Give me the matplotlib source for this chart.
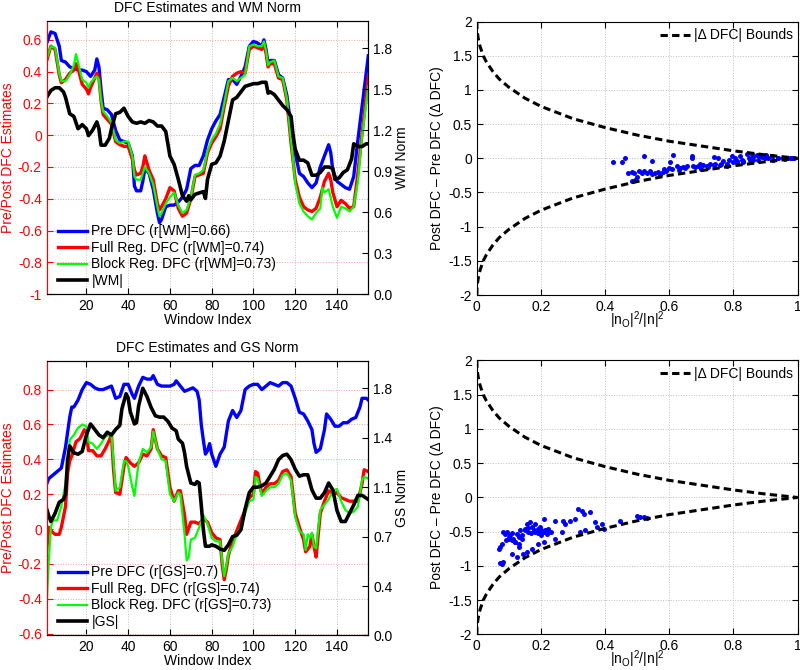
import numpy as np
import matplotlib
matplotlib.use('Agg')
import matplotlib.pyplot as plt

plt.rcParams['font.family'] = ['Liberation Sans', 'DejaVu Sans']
plt.rcParams['font.size'] = 10
plt.rcParams['mathtext.default'] = 'regular'

# ---- top left: DFC estimates and WM norm ----
pre_wm_x = [1,3,5,7,8,10,12,14,16,18,20,22,24,25,26,27,28,30,32,34,36,38,40,42,43,44,46,47,48,50,
            52,54,55,56,58,60,62,64,66,68,70,72,74,76,78,80,82,84,86,88,90,92,94,96,98,100,102,104,105,106,
            107,108,110,112,114,116,118,120,122,124,126,128,130,132,134,136,137,138,140,142,144,146,148,150,152,155]
pre_wm = [0.58,0.65,0.64,0.56,0.47,0.46,0.43,0.42,0.41,0.41,0.40,0.37,0.41,0.48,0.43,0.29,0.17,0.16,0.13,0.03,
          -0.03,-0.04,-0.05,-0.13,-0.32,-0.35,-0.35,-0.29,-0.21,-0.24,-0.34,-0.49,-0.55,-0.53,-0.45,-0.44,-0.44,-0.42,-0.39,-0.34,
          -0.21,-0.19,-0.19,-0.13,-0.03,0.04,0.09,0.13,0.24,0.35,0.35,0.32,0.37,0.43,0.56,0.59,0.58,0.56,0.60,0.54,
          0.45,0.47,0.47,0.38,0.36,0.25,0.05,-0.11,-0.24,-0.26,-0.30,-0.33,-0.30,-0.20,-0.13,-0.06,-0.11,-0.22,-0.29,-0.31,
          -0.33,-0.34,-0.26,-0.03,0.18,0.50]

full_wm_x = [1,3,5,7,8,10,12,14,15,16,18,20,21,22,24,25,26,27,28,30,32,34,36,38,40,42,43,44,46,47,
             48,50,52,54,55,56,58,60,62,64,66,68,70,72,74,76,78,80,82,84,86,88,90,92,94,96,98,100,102,104,
             105,106,107,108,110,112,114,116,118,120,122,124,126,128,130,132,134,136,137,138,140,142,144,146,148,150,152,155]
full_wm = [0.47,0.56,0.54,0.38,0.33,0.35,0.39,0.41,0.45,0.42,0.32,0.29,0.26,0.30,0.36,0.39,0.36,0.22,0.13,0.10,
           0.07,-0.04,-0.06,-0.07,-0.07,-0.15,-0.22,-0.25,-0.24,-0.20,-0.13,-0.22,-0.28,-0.43,-0.47,-0.45,-0.40,-0.33,-0.35,-0.46,
           -0.51,-0.49,-0.40,-0.26,-0.25,-0.24,-0.11,-0.05,-0.01,0.04,0.18,0.31,0.37,0.39,0.40,0.39,0.54,0.56,0.55,0.54,
           0.58,0.52,0.43,0.45,0.45,0.36,0.35,0.22,-0.05,-0.28,-0.39,-0.45,-0.47,-0.48,-0.46,-0.39,-0.29,-0.24,-0.28,-0.36,
           -0.45,-0.41,-0.43,-0.46,-0.45,-0.24,0.01,0.37]

block_wm_x = [1,3,5,7,8,10,12,14,15,16,18,20,21,22,24,25,26,27,28,30,32,34,36,38,40,42,43,44,46,47,
              48,50,52,54,55,56,58,60,62,64,66,68,70,72,74,76,78,80,82,84,86,88,90,92,94,96,98,100,102,104,
              105,106,107,108,110,112,114,116,118,120,122,124,126,128,130,132,133,134,136,138,140,142,144,146,148,150,152,155]
block_wm = [0.48,0.56,0.55,0.39,0.34,0.34,0.38,0.44,0.51,0.46,0.35,0.33,0.30,0.33,0.36,0.37,0.35,0.22,0.15,0.12,
            0.08,-0.03,-0.05,-0.04,-0.04,-0.13,-0.26,-0.28,-0.28,-0.24,-0.20,-0.24,-0.31,-0.45,-0.51,-0.49,-0.43,-0.39,-0.36,-0.44,
            -0.49,-0.47,-0.39,-0.25,-0.24,-0.22,-0.10,-0.03,0.01,0.07,0.20,0.34,0.36,0.34,0.36,0.38,0.56,0.57,0.56,0.56,
            0.59,0.53,0.44,0.46,0.47,0.37,0.36,0.23,-0.03,-0.30,-0.43,-0.48,-0.51,-0.53,-0.49,-0.46,-0.33,-0.36,-0.34,-0.45,
            -0.52,-0.45,-0.46,-0.48,-0.45,-0.29,-0.01,0.31]

wm_x = [1,3,5,7,9,10,12,14,16,18,20,21,23,25,26,27,29,31,32,34,36,38,40,42,44,46,48,50,52,54,
        56,58,60,62,64,66,68,69,70,72,74,76,77,78,80,82,84,86,88,90,92,94,96,98,100,102,104,106,107,108,
        110,112,114,116,118,119,120,122,124,126,128,130,132,134,136,138,139,141,143,145,147,148,150,152,154,155]
wm_norm = [1.44,1.49,1.51,1.51,1.48,1.44,1.32,1.30,1.21,1.24,1.21,1.16,1.20,1.26,1.21,1.09,1.09,1.14,1.21,1.32,
           1.33,1.36,1.30,1.26,1.25,1.26,1.25,1.27,1.26,1.23,1.23,1.19,1.01,0.95,0.84,0.72,0.68,0.72,0.69,0.73,
           0.74,0.75,0.70,0.84,0.95,0.96,1.01,1.12,1.27,1.42,1.44,1.48,1.52,1.53,1.54,1.54,1.55,1.55,1.47,1.48,
           1.46,1.42,1.38,1.35,1.30,1.16,1.06,0.98,0.98,0.96,0.87,0.87,0.89,0.93,0.93,0.92,0.84,0.85,0.89,0.91,
           0.99,1.10,1.08,1.08,1.10,1.10]

# ---- bottom left: DFC estimates and GS norm ----
pre_gs_x = [1,2,4,6,8,10,12,13,14,16,18,20,22,24,26,28,30,32,34,36,38,40,42,43,45,47,49,51,52,54,
            56,58,60,62,63,65,67,69,71,73,74,75,76,77,78,79,80,82,84,86,88,90,92,94,96,98,100,102,104,106,
            108,110,112,114,116,118,120,122,124,126,128,129,130,132,134,135,137,139,141,143,145,147,149,151,152,154,155]
pre_gs = [0.26,0.29,0.31,0.33,0.35,0.47,0.64,0.70,0.70,0.74,0.80,0.84,0.83,0.81,0.80,0.80,0.81,0.82,0.75,0.76,
          0.83,0.83,0.77,0.75,0.82,0.87,0.86,0.86,0.88,0.83,0.82,0.82,0.82,0.83,0.85,0.82,0.79,0.80,0.81,0.79,
          0.74,0.60,0.51,0.43,0.45,0.49,0.43,0.36,0.43,0.47,0.62,0.68,0.64,0.68,0.80,0.82,0.83,0.83,0.80,0.82,
          0.84,0.83,0.82,0.84,0.84,0.82,0.75,0.67,0.66,0.62,0.57,0.49,0.44,0.46,0.57,0.66,0.63,0.59,0.59,0.61,
          0.61,0.63,0.64,0.70,0.75,0.75,0.74]

full_gs_x = [1,2,3,5,7,8,10,11,12,13,15,17,19,20,21,23,25,27,29,31,32,33,34,36,38,39,41,43,45,47,
             49,51,52,54,56,58,60,62,64,65,67,68,70,72,74,76,78,80,82,84,85,86,87,88,90,92,94,96,98,100,
             101,102,104,106,108,110,112,114,116,118,120,122,124,125,127,128,129,130,132,134,136,138,140,142,144,146,148,150,152,153,155]
full_gs = [-0.12,0.01,-0.01,-0.03,-0.03,0.01,0.13,0.32,0.39,0.42,0.50,0.52,0.57,0.55,0.45,0.45,0.42,0.42,0.46,0.51,
           0.54,0.34,0.21,0.20,0.36,0.41,0.38,0.36,0.38,0.43,0.42,0.46,0.57,0.46,0.42,0.41,0.24,0.16,0.22,0.22,
           0.08,-0.03,0.04,0.04,0.03,0.06,0.04,-0.02,-0.05,-0.06,-0.20,-0.29,-0.23,-0.15,-0.07,-0.01,0.05,0.11,0.18,0.20,
           0.33,0.32,0.20,0.24,0.26,0.26,0.28,0.33,0.34,0.30,0.09,0.01,-0.06,-0.13,-0.10,-0.03,-0.10,-0.16,0.09,0.16,
           0.22,0.20,0.21,0.18,0.17,0.16,0.16,0.16,0.26,0.34,0.33]

block_gs_x = [1,2,3,4,6,8,10,11,12,14,16,18,20,21,23,25,27,29,31,32,33,34,36,38,39,40,42,43,45,47,
              49,51,52,54,56,58,60,62,64,65,67,68,69,70,72,74,76,78,80,82,84,85,86,87,88,90,92,94,96,98,
              100,101,102,104,106,108,110,112,114,116,118,120,122,124,125,126,127,128,129,130,132,134,136,138,140,142,144,146,148,150,
              152,153,155]
block_gs = [-0.43,-0.18,0.01,0.05,0.05,0.13,0.26,0.38,0.51,0.54,0.58,0.60,0.59,0.50,0.49,0.46,0.49,0.53,0.54,0.54,
            0.39,0.22,0.24,0.39,0.39,0.36,0.24,0.19,0.38,0.46,0.44,0.47,0.56,0.46,0.40,0.39,0.20,0.16,0.21,0.20,
            -0.03,-0.18,-0.16,-0.06,-0.05,0.01,0.08,0.03,-0.05,-0.07,-0.07,-0.18,-0.27,-0.21,-0.14,-0.10,-0.03,0.01,0.09,0.16,
            0.17,0.30,0.29,0.19,0.22,0.24,0.24,0.26,0.31,0.32,0.28,0.07,-0.01,-0.03,-0.12,-0.03,-0.05,-0.02,-0.10,-0.11,
            0.11,0.14,0.17,0.22,0.23,0.16,0.11,0.09,0.10,0.13,0.28,0.30,0.29]

gs_x = [1,2,3,5,7,9,10,11,12,14,16,18,20,22,24,26,28,30,32,34,36,37,39,40,41,43,44,45,47,49,
        51,53,55,57,59,61,63,64,66,67,68,70,72,73,74,75,76,77,79,80,82,84,86,88,90,92,94,96,98,100,
        102,104,106,108,110,112,114,116,118,120,122,124,126,128,130,132,134,136,138,140,142,144,146,148,150,152,154,155]
gs_norm = [0.92,0.87,0.83,0.89,0.97,0.99,1.03,1.28,1.38,1.33,1.32,1.34,1.46,1.54,1.50,1.46,1.44,1.48,1.46,1.50,
           1.53,1.65,1.76,1.73,1.63,1.54,1.55,1.67,1.80,1.74,1.66,1.60,1.59,1.59,1.56,1.51,1.49,1.43,1.40,1.33,
           1.23,1.11,1.10,1.12,1.11,0.95,0.77,0.65,0.65,0.66,0.65,0.63,0.62,0.66,0.72,0.73,0.77,0.92,1.04,1.08,
           1.08,1.09,1.11,1.16,1.21,1.28,1.31,1.32,1.28,1.21,1.16,1.17,1.17,1.06,1.00,1.00,1.04,1.11,1.06,0.91,
           0.83,0.83,0.89,0.95,1.02,1.02,1.00,0.99]

# ---- right: delta DFC vs |n_O|^2/|n|^2 ----
ratio_wm = [0.426,0.452,0.462,0.521,0.547,0.471,0.483,0.506,0.515,0.483,0.494,0.546,0.556,0.566,0.540,0.582,0.598,0.603,0.613,0.623,
            0.634,0.644,0.655,0.670,0.670,0.675,0.691,0.696,0.706,0.717,0.727,0.738,0.743,0.753,0.759,0.769,0.779,0.785,0.795,0.800,
            0.805,0.811,0.821,0.826,0.831,0.842,0.847,0.852,0.857,0.862,0.873,0.878,0.888,0.899,0.909,0.924,0.940,0.956,0.966,0.976,
            0.984,0.50,0.52,0.53,0.57,0.59,0.61,0.63,0.65,0.68,0.70,0.72,0.74,0.76,0.78,0.81,0.83,0.86,0.88,0.90,
            0.92,0.94,0.96,0.99,0.58,0.49]
delta_wm = [-0.05,-0.06,0.0,0.04,-0.04,-0.21,-0.20,-0.18,-0.21,-0.33,-0.31,-0.23,-0.21,-0.20,-0.19,-0.16,-0.14,-0.05,0.05,-0.11,
            -0.14,-0.13,-0.11,0.01,0.03,-0.11,-0.11,-0.09,-0.10,-0.11,-0.09,0.02,-0.08,0.01,-0.10,-0.04,-0.11,-0.02,0.03,-0.06,
            0.01,-0.04,0.03,-0.02,-0.06,0.06,0.01,-0.03,0.06,0.02,0.05,-0.02,0.02,0.0,0.01,-0.02,0.01,0.01,0.0,0.01,
            0.0,-0.28,-0.19,-0.22,-0.24,-0.18,-0.16,-0.17,-0.14,-0.13,-0.15,-0.12,-0.10,-0.09,-0.08,-0.05,-0.04,-0.02,0.03,0.05,
            0.03,0.0,-0.01,0.01,-0.20,-0.22]

ratio_gs = [0.073,0.078,0.083,0.089,0.094,0.099,0.104,0.109,0.114,0.119,0.125,0.130,0.130,0.135,0.140,0.150,0.156,0.161,0.166,0.171,
            0.177,0.182,0.187,0.192,0.197,0.202,0.208,0.213,0.218,0.223,0.083,0.073,0.109,0.125,0.145,0.156,0.171,0.192,0.208,0.244,
            0.265,0.244,0.270,0.275,0.291,0.307,0.317,0.328,0.333,0.354,0.322,0.338,0.369,0.374,0.390,0.395,0.446,0.498,0.509,
            0.18,0.19,0.20,0.21,0.22,0.17,0.16,0.14,0.12,0.10,0.09,0.11,0.20,0.23,0.15,0.52,0.53,0.08,0.07,0.13]
delta_gs = [-0.72,-0.675,-0.506,-0.53,-0.506,-0.578,-0.555,-0.627,-0.603,-0.65,-0.53,-0.578,-0.72,-0.482,-0.603,-0.458,-0.386,-0.506,-0.362,-0.434,
            -0.482,-0.386,-0.506,-0.458,-0.434,-0.506,-0.313,-0.482,-0.53,-0.458,-0.94,-0.96,-0.82,-0.87,-0.82,-0.795,-0.747,-0.675,-0.651,-0.603,
            -0.506,-0.337,-0.337,-0.386,-0.337,-0.313,-0.169,-0.193,-0.241,-0.217,-0.506,-0.482,-0.362,-0.434,-0.386,-0.458,-0.337,-0.265,-0.29,
            -0.50,-0.52,-0.47,-0.50,-0.47,-0.52,-0.45,-0.55,-0.65,-0.60,-0.62,-0.52,-0.55,-0.50,-0.47,-0.29,-0.30,-0.97,-0.75,-0.68]

# bound curve (upper half; lower half is mirrored)
bound_x = [0, 0.0005, 0.002, 0.005, 0.01, 0.02, 0.03, 0.05, 0.07, 0.1, 0.15, 0.2, 0.25, 0.3, 0.4, 0.5, 0.6, 0.7, 0.8, 0.9, 1.0]
bound_y = [2.0, 1.91, 1.83, 1.74, 1.64, 1.50, 1.41, 1.27, 1.16, 1.04, 0.88, 0.76, 0.67, 0.58, 0.45, 0.34, 0.25, 0.18, 0.11, 0.05, 0.0]

labels_wm = ['Pre DFC (r[WM]=0.66)', 'Full Reg. DFC (r[WM]=0.74)', 'Block Reg. DFC (r[WM]=0.73)', '|WM|']
labels_gs = ['Pre DFC (r[GS]=0.7)', 'Full Reg. DFC (r[GS]=0.74)', 'Block Reg. DFC (r[GS]=0.73)', '|GS|']

fig = plt.figure(figsize=(8, 6.7), dpi=100)


def fmt(t):
    # avoid "-0" on the zero tick
    return '%g' % (round(t, 2) + 0.0)


def dfc_panel(rect, series, norm_x, norm_y, labels, title, norm_label, ylim, yticks, rticks):
    ax = fig.add_axes(rect)
    colors = ['#0000ff', '#ff0000', '#00ff00']
    widths = [2.4, 2.4, 1.6]
    handles = []
    for (xs, ys), c, lw in zip(series, colors, widths):
        h, = ax.plot(xs, ys, color=c, lw=lw)
        handles.append(h)
    ax.set_xlim(1, 155)
    ax.set_ylim(*ylim)
    ax.set_xticks(range(20, 141, 20))
    ax.set_yticks(yticks)
    ax.set_yticklabels([fmt(t) for t in yticks])
    ax.tick_params(axis='y', colors='red', direction='in', length=4)
    ax.tick_params(axis='x', direction='in', length=4, top=True)
    ax.spines['left'].set_color('red')
    ax.set_ylabel('Pre/Post DFC Estimates', color='red', labelpad=2)
    ax.set_xlabel('Window Index', labelpad=0)
    ax.set_title(title, fontsize=10, pad=6)
    ax.xaxis.grid(True, ls=':', color='0.75', lw=0.7)
    ax.yaxis.grid(True, ls=':', color='#f4a0a0', lw=0.7)
    ax.set_axisbelow(True)

    ax2 = ax.twinx()
    h, = ax2.plot(norm_x, norm_y, color='black', lw=2.6)
    handles.append(h)
    ax2.set_ylim(0, 2)
    ax2.set_yticks(rticks)
    ax2.set_yticklabels(['%.1f' % t for t in rticks])
    ax2.tick_params(axis='y', direction='in', length=4)
    ax2.spines['left'].set_color('red')
    ax2.set_ylabel(norm_label, labelpad=2)

    ax2.legend(handles, labels, loc='upper left', bbox_to_anchor=(0.035, 0.255),
               frameon=False, borderpad=0, borderaxespad=0, handlelength=2.1,
               handletextpad=0.3, labelspacing=0.18, fontsize=10)
    return ax


dfc_panel([0.0584, 0.561, 0.402, 0.408],
          [(pre_wm_x, pre_wm), (full_wm_x, full_wm), (block_wm_x, block_wm)],
          wm_x, wm_norm, labels_wm, 'DFC Estimates and WM Norm', 'WM Norm',
          (-1, 0.72), np.round(np.arange(-1, 0.61, 0.2), 1), [0, 0.3, 0.6, 0.9, 1.2, 1.5, 1.8])

dfc_panel([0.0584, 0.0515, 0.402, 0.410],
          [(pre_gs_x, pre_gs), (full_gs_x, full_gs), (block_gs_x, block_gs)],
          gs_x, gs_norm, labels_gs, 'DFC Estimates and GS Norm', 'GS Norm',
          (-0.61, 0.965), np.round(np.arange(-0.6, 0.81, 0.2), 1), np.linspace(0, 1.8, 6))


def delta_panel(rect, xs, ys):
    ax = fig.add_axes(rect)
    ax.plot(xs, ys, 'o', color='#0000ff', ms=3.6, mec='none')
    bx = np.array(bound_x)
    by = np.array(bound_y)
    h, = ax.plot(bx, by, color='black', lw=2.2, dashes=(2.4, 1.4))
    ax.plot(bx, -by, color='black', lw=2.2, dashes=(2.4, 1.4))
    ax.set_xlim(0, 1)
    ax.set_ylim(-2, 2)
    ax.set_xticks(np.round(np.arange(0, 1.01, 0.2), 1))
    ax.set_xticklabels(['0', '0.2', '0.4', '0.6', '0.8', '1'])
    yt = np.arange(-2, 2.01, 0.5)
    ax.set_yticks(yt)
    ax.set_yticklabels([fmt(t) for t in yt])
    ax.tick_params(direction='in', length=4, top=True, right=True)
    ax.grid(True, ls=':', color='0.75', lw=0.7)
    ax.set_axisbelow(True)
    ax.set_ylabel('Post DFC – Pre DFC (Δ DFC)', labelpad=3)
    ax.set_xlabel(r'$|n_O|^2/|n|^2$', labelpad=-3.5)
    ax.legend([h], ['|Δ DFC| Bounds'], loc='upper right', bbox_to_anchor=(0.985, 0.975),
              frameon=False, borderpad=0, borderaxespad=0, handlelength=2.1, handletextpad=0.3)
    return ax


delta_panel([0.596, 0.5597, 0.401, 0.408], ratio_wm, delta_wm)
delta_panel([0.596, 0.0530, 0.401, 0.409], ratio_gs, delta_gs)

fig.savefig('out.png', dpi=100)
